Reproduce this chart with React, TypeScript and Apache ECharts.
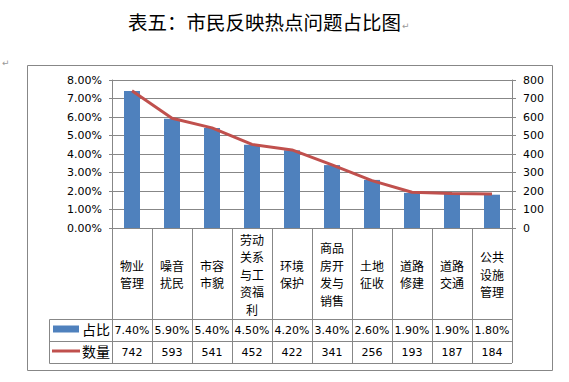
import React, { useEffect, useRef } from "react";
import * as echarts from "echarts";

const titleText = "表五：市民反映热点问题占比图";
const categories = [
  "物业管理",
  "噪音扰民",
  "市容市貌",
  "劳动关系与工资福利",
  "环境保护",
  "商品房开发与销售",
  "土地征收",
  "道路修建",
  "道路交通",
  "公共设施管理",
];
const shares = [7.4, 5.9, 5.4, 4.5, 4.2, 3.4, 2.6, 1.9, 1.9, 1.8]; // percent
const counts = [742, 593, 541, 452, 422, 341, 256, 193, 187, 184];
const seriesNames = ["占比", "数量"];

const GRAY = "#878787";
const BLUE = "#4F81BD";
const RED = "#C0504D";
const NUM_FONT = "DejaVu Sans";
const CJK_FONT = "Noto Sans CJK SC";

function wrap2(s: string) {
  const parts: string[] = [];
  for (let i = 0; i < s.length; i += 2) parts.push(s.slice(i, i + 2));
  return parts.join("\n");
}

export default function App() {
  const ref = useRef<HTMLDivElement>(null);
  useEffect(() => {
    if (!ref.current) return;
    const chart = echarts.init(ref.current, null, { renderer: "svg" });
    const pctLabels = shares.map((v) => v.toFixed(2) + "%");
    const cntLabels = counts.map((v) => String(v));
    const hiddenAxis = {
      axisLine: { show: false },
      axisTick: { show: false },
      splitLine: { show: false },
    };
    chart.setOption({
      animation: false,
      backgroundColor: "#fff",
      grid: { left: 112, top: 80, width: 400, height: 148, containLabel: false },
      legend: [
        {
          data: [{ name: seriesNames[0], icon: "rect" }],
          left: 53,
          top: 322,
          padding: 0,
          itemWidth: 26,
          itemHeight: 7,
          itemGap: 0,
          textStyle: { fontFamily: CJK_FONT, fontSize: 14, color: "#000", padding: [0, 0, 0, -2] },
        },
        {
          data: [{ name: seriesNames[1], icon: "rect" }],
          left: 52,
          top: 344,
          padding: 0,
          itemWidth: 28,
          itemHeight: 3,
          itemGap: 0,
          textStyle: { fontFamily: CJK_FONT, fontSize: 14, color: "#000", padding: [0, 0, 0, -3] },
        },
      ],
      xAxis: [
        {
          type: "category",
          position: "bottom",
          data: categories,
          axisLine: { show: true, lineStyle: { color: GRAY, width: 1 } },
          axisTick: {
            show: true,
            interval: 0,
            alignWithLabel: false,
            length: 135,
            lineStyle: { color: GRAY, width: 1 },
          },
          axisLabel: {
            interval: 0,
            margin: 46,
            verticalAlign: "middle",
            formatter: (v: string) => wrap2(v),
            fontFamily: CJK_FONT,
            fontSize: 12,
            lineHeight: 17.5,
            color: "#000",
          },
          splitLine: { show: false },
        },
        {
          type: "category",
          position: "bottom",
          data: pctLabels,
          ...hiddenAxis,
          axisLabel: {
            interval: 0,
            margin: 102,
            verticalAlign: "middle",
            fontFamily: NUM_FONT,
            fontSize: 11,
            color: "#000",
          },
        },
        {
          type: "category",
          position: "bottom",
          data: cntLabels,
          ...hiddenAxis,
          axisLabel: {
            interval: 0,
            margin: 124,
            verticalAlign: "middle",
            fontFamily: NUM_FONT,
            fontSize: 11,
            color: "#000",
          },
        },
      ],
      yAxis: [
        {
          type: "value",
          position: "left",
          min: 0,
          max: 0.08,
          interval: 0.01,
          axisLine: { show: true, lineStyle: { color: GRAY } },
          axisTick: { show: true, length: 3, lineStyle: { color: GRAY } },
          splitLine: { show: true, lineStyle: { color: GRAY, width: 1 } },
          axisLabel: {
            margin: 10,
            formatter: (v: number) => (v * 100).toFixed(2) + "%",
            fontFamily: NUM_FONT,
            fontSize: 11,
            color: "#000",
          },
        },
        {
          type: "value",
          position: "right",
          min: 0,
          max: 800,
          interval: 100,
          axisLine: { show: true, lineStyle: { color: GRAY } },
          axisTick: { show: true, length: 4, lineStyle: { color: GRAY } },
          splitLine: { show: false },
          axisLabel: {
            margin: 11,
            fontFamily: NUM_FONT,
            fontSize: 11,
            color: "#000",
          },
        },
      ],
      series: [
        {
          name: seriesNames[0],
          type: "bar",
          xAxisIndex: 0,
          yAxisIndex: 0,
          data: shares.map((v) => v / 100),
          barWidth: 16,
          itemStyle: { color: BLUE },
        },
        {
          name: seriesNames[1],
          type: "line",
          xAxisIndex: 0,
          yAxisIndex: 1,
          data: counts,
          symbol: "none",
          lineStyle: { color: RED, width: 3 },
          itemStyle: { color: RED },
        },
      ],
      graphic: [
        {
          type: "text",
          left: 128,
          top: 12,
          style: { text: titleText, fontFamily: CJK_FONT, fontSize: 19.5, fill: "#000" },
        },
        {
          type: "text",
          left: 402,
          top: 21,
          style: { text: "↵", fontFamily: NUM_FONT, fontSize: 9, fill: "#999" },
        },
        {
          type: "text",
          left: 2,
          top: 58,
          style: { text: "↵", fontFamily: NUM_FONT, fontSize: 9, fill: "#999" },
        },
        {
          type: "rect",
          shape: { x: 27.5, y: 65.5, width: 525, height: 305 },
          style: { fill: "none", stroke: GRAY, lineWidth: 1 },
          silent: true,
        },
        {
          type: "line",
          shape: { x1: 49.5, y1: 319.5, x2: 512, y2: 319.5 },
          style: { stroke: GRAY, lineWidth: 1 },
        },
        {
          type: "line",
          shape: { x1: 49.5, y1: 341.5, x2: 512, y2: 341.5 },
          style: { stroke: GRAY, lineWidth: 1 },
        },
        {
          type: "line",
          shape: { x1: 49.5, y1: 363.5, x2: 512, y2: 363.5 },
          style: { stroke: GRAY, lineWidth: 1 },
        },
        {
          type: "line",
          shape: { x1: 49.5, y1: 319.5, x2: 49.5, y2: 363.5 },
          style: { stroke: GRAY, lineWidth: 1 },
        },
      ],
    });
    return () => chart.dispose();
  }, []);
  return (
    <div
      ref={ref}
      style={{ position: "fixed", left: 0, top: 0, width: 569, height: 382, background: "#fff" }}
    />
  );
}
